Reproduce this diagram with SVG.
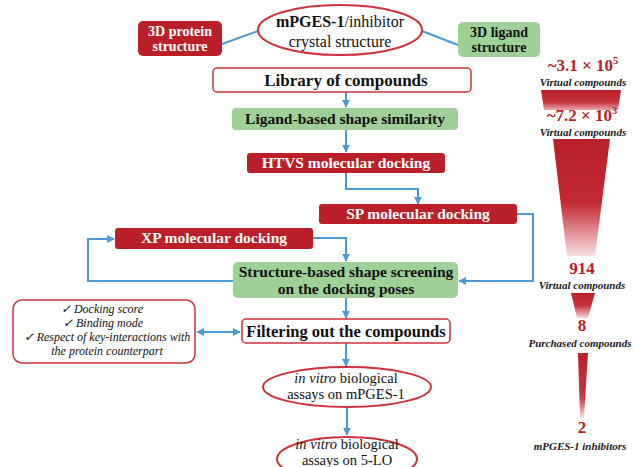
<svg xmlns="http://www.w3.org/2000/svg" width="633" height="467" viewBox="0 0 633 467">
<defs>
<style>
.red{fill:#bb1f28;}
.green{fill:#9dd195;}
.wb{font-family:"Liberation Serif","Times New Roman",serif;font-weight:bold;fill:#ffffff;text-anchor:middle;}
.kb{font-family:"Liberation Serif","Times New Roman",serif;font-weight:bold;fill:#111111;text-anchor:middle;}
.kr{font-family:"Liberation Serif","Times New Roman",serif;fill:#111111;text-anchor:middle;}
.ck{font-family:"Liberation Serif","Times New Roman",serif;font-style:italic;fill:#111111;font-size:12px;text-anchor:middle;}
.num{font-family:"Liberation Serif","Times New Roman",serif;font-weight:bold;fill:#b81d27;text-anchor:middle;}
.sm{font-family:"Liberation Serif","Times New Roman",serif;font-weight:bold;font-style:italic;fill:#1a1a1a;font-size:11px;text-anchor:middle;}
.ln{fill:none;stroke:#4a9ad8;stroke-width:2;}
.ob{fill:#ffffff;stroke:#d0313a;stroke-width:2;}
</style>
<marker id="ah" viewBox="0 0 10 10" refX="9" refY="5" markerWidth="4" markerHeight="4" orient="auto-start-reverse">
<path d="M0,0 L10,5 L0,10 z" fill="#4a9ad8"/>
</marker>
<linearGradient id="g1" x1="0" y1="0" x2="0" y2="1"><stop offset="0" stop-color="#bb1f28"/><stop offset="0.6" stop-color="#c5323a"/><stop offset="1" stop-color="#eaa9ad"/></linearGradient>
<linearGradient id="g2" x1="0" y1="0" x2="0" y2="1"><stop offset="0" stop-color="#bb1f28"/><stop offset="0.55" stop-color="#c22a33"/><stop offset="1" stop-color="#f8e1e3"/></linearGradient>
<linearGradient id="g3" x1="0" y1="0" x2="0" y2="1"><stop offset="0" stop-color="#bb1f28"/><stop offset="0.5" stop-color="#c7343d"/><stop offset="1" stop-color="#f6d6d8"/></linearGradient>
<linearGradient id="g4" x1="0" y1="0" x2="0" y2="1"><stop offset="0" stop-color="#bb1f28"/><stop offset="0.7" stop-color="#c93a43"/><stop offset="1" stop-color="#f8e4e5"/></linearGradient>
</defs>
<rect width="633" height="467" fill="#ffffff"/>

<g id="connectors">
<line class="ln" x1="222" y1="44" x2="258" y2="31"/>
<line class="ln" x1="422" y1="31" x2="458" y2="45"/>
<line class="ln" x1="346" y1="92" x2="346" y2="107" marker-end="url(#ah)"/>
<line class="ln" x1="346" y1="130" x2="346" y2="152" marker-end="url(#ah)"/>
<polyline class="ln" points="346,173 346,189 418,189 418,204" marker-end="url(#ah)"/>
<polyline class="ln" points="517,214 533,214 533,281 459,281" marker-end="url(#ah)"/>
<polyline class="ln" points="313,238 346,238 346,261" marker-end="url(#ah)"/>
<polyline class="ln" points="233,281 88,281 88,239 114,239" marker-end="url(#ah)"/>
<line class="ln" x1="346" y1="298" x2="346" y2="318" marker-end="url(#ah)"/>
<line class="ln" x1="197" y1="332" x2="240" y2="332" marker-start="url(#ah)" marker-end="url(#ah)"/>
<line class="ln" x1="346" y1="343" x2="346" y2="366" marker-end="url(#ah)"/>
<line class="ln" x1="347" y1="407" x2="347" y2="435" marker-end="url(#ah)"/>
</g>

<g id="protein">
<rect class="red" x="138" y="21" width="84" height="35" rx="5"/>
<text class="wb" x="180" y="36" font-size="14">3D protein</text>
<text class="wb" x="180" y="51" font-size="14">structure</text>
</g>

<g id="crystal">
<ellipse class="ob" cx="340" cy="30" rx="82" ry="25"/>
<text class="kr" x="340" y="27" font-size="16"><tspan font-weight="bold">mPGES-1</tspan>/inhibitor</text>
<text class="kr" x="340" y="47" font-size="16">crystal structure</text>
</g>

<g id="ligand">
<rect class="green" x="458" y="22" width="82" height="35" rx="5"/>
<text class="kb" x="499" y="37" font-size="14">3D ligand</text>
<text class="kb" x="499" y="52" font-size="14">structure</text>
</g>

<g id="library">
<rect x="213" y="68" width="258" height="24" rx="4" fill="#ffffff" stroke="#d0313a" stroke-width="1.5"/>
<text class="kb" x="346" y="86" font-size="17">Library of compounds</text>
</g>

<g id="lbss">
<rect class="green" x="232" y="108" width="226" height="22" rx="4"/>
<text class="kb" x="345" y="124" font-size="15.5">Ligand-based shape similarity</text>
</g>

<g id="htvs">
<rect class="red" x="247" y="153" width="198" height="20" rx="3"/>
<text class="wb" x="346" y="168" font-size="15.5">HTVS molecular docking</text>
</g>

<g id="sp">
<rect class="red" x="319" y="204" width="198" height="20" rx="3"/>
<text class="wb" x="418" y="219" font-size="15.5">SP molecular docking</text>
</g>

<g id="xp">
<rect class="red" x="115" y="228" width="198" height="21" rx="3"/>
<text class="wb" x="214" y="243" font-size="15.5">XP molecular docking</text>
</g>

<g id="sbss">
<rect class="green" x="233" y="262" width="225" height="36" rx="5"/>
<text class="kb" x="346" y="277" font-size="15.5">Structure-based shape screening</text>
<text class="kb" x="346" y="294" font-size="15.5">on the docking poses</text>
</g>

<g id="criteria">
<rect x="13" y="300" width="182" height="63" rx="9" fill="#ffffff" stroke="#d0313a" stroke-width="1.5"/>
<text class="ck" x="102" y="313">✓  Docking score</text>
<text class="ck" x="103" y="327">✓ Binding mode</text>
<text class="ck" x="107" y="341">✓ Respect of key-interactions with</text>
<text class="ck" x="107" y="355">the protein counterpart</text>
</g>

<g id="filtering">
<rect x="242" y="319" width="208" height="24" rx="4" fill="#ffffff" stroke="#d0313a" stroke-width="1.5"/>
<text class="kb" x="346" y="337" font-size="16.5">Filtering out the compounds</text>
</g>

<g id="assay1">
<ellipse class="ob" cx="347" cy="387" rx="84" ry="20"/>
<text class="kr" x="346" y="383" font-size="14.5"><tspan font-style="italic">in vitro</tspan> biological</text>
<text class="kr" x="346" y="399" font-size="14.5">assays on mPGES-1</text>
</g>

<g id="assay2">
<ellipse class="ob" cx="347" cy="459" rx="70" ry="22"/>
<text class="kr" x="347" y="449" font-size="14.5"><tspan font-style="italic">in vitro</tspan> biological</text>
<text class="kr" x="347" y="465" font-size="14.5">assays on 5-LO</text>
</g>

<g id="funnel">
<text class="num" x="583" y="71" font-size="17">~3.1 × 10<tspan font-size="10.5" dy="-7">5</tspan></text>
<text class="sm" x="583" y="86">Virtual compounds</text>
<polygon points="541,90 621,90 618,110 544,110" fill="url(#g1)"/>
<text class="num" x="582" y="121" font-size="17">~7.2 × 10<tspan font-size="10.5" dy="-7">3</tspan></text>
<text class="sm" x="583" y="136">Virtual compounds</text>
<polygon points="553,139 610,139 595,256 567,256" fill="url(#g2)"/>
<text class="num" x="582" y="274" font-size="17">914</text>
<text class="sm" x="582" y="289">Virtual compounds</text>
<polygon points="571,293 595,293 588,318 577,318" fill="url(#g3)"/>
<text class="num" x="582" y="331" font-size="17">8</text>
<text class="sm" x="580" y="347" font-size="10.5">Purchased compounds</text>
<polygon points="578,353 588,353 584,418 580,418" fill="url(#g4)"/>
<text class="num" x="582" y="433" font-size="17">2</text>
<text class="sm" x="580" y="450">mPGES-1 inhibitors</text>
</g>
</svg>
